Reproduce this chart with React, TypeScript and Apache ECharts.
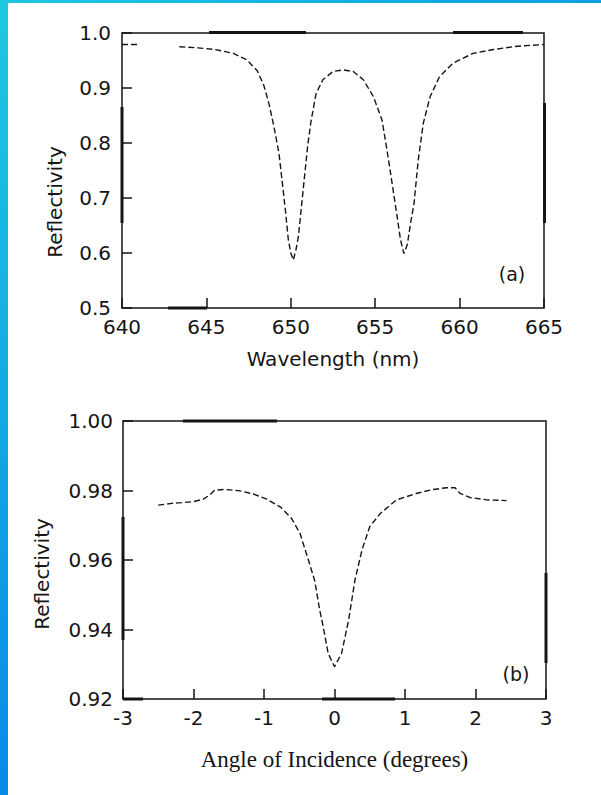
import React, { useEffect, useRef } from "react";
import * as echarts from "echarts";

// Panel (a): reflectivity vs wavelength
const wavelengthNm = [640, 640.9, 641.5, 643.4, 644.5, 645.5, 646.6, 647.4, 648.0, 648.4, 648.7, 649.0, 649.3, 649.5, 649.7, 649.85, 650.0, 650.15, 650.3, 650.45, 650.6, 650.8, 651.0, 651.2, 651.5, 651.9, 652.5, 653.1, 653.7, 654.3, 654.9, 655.4, 655.7, 656.0, 656.3, 656.5, 656.7, 656.9, 657.1, 657.3, 657.55, 657.85, 658.25, 658.8, 659.6, 660.8, 662.0, 663.4, 665];
const reflectivityA: (number | null)[] = [0.979, 0.979, null, 0.975, 0.973, 0.970, 0.963, 0.951, 0.932, 0.905, 0.872, 0.830, 0.781, 0.727, 0.672, 0.625, 0.600, 0.587, 0.605, 0.630, 0.675, 0.735, 0.795, 0.840, 0.890, 0.915, 0.930, 0.933, 0.930, 0.915, 0.884, 0.842, 0.787, 0.727, 0.666, 0.624, 0.599, 0.615, 0.655, 0.690, 0.769, 0.836, 0.884, 0.920, 0.945, 0.963, 0.970, 0.976, 0.979];

// Panel (b): reflectivity vs angle of incidence
const angleDeg = [-2.5, -2.31, -2.17, -2.0, -1.86, -1.77, -1.70, -1.55, -1.34, -1.15, -0.96, -0.77, -0.61, -0.49, -0.37, -0.28, -0.21, -0.16, -0.09, 0.0, 0.10, 0.20, 0.29, 0.39, 0.50, 0.65, 0.88, 1.17, 1.40, 1.59, 1.71, 1.78, 1.92, 2.16, 2.44];
const reflectivityB = [0.9758, 0.9763, 0.9765, 0.9768, 0.9775, 0.9787, 0.9801, 0.9803, 0.9799, 0.9790, 0.9775, 0.9753, 0.9720, 0.9677, 0.9600, 0.9540, 0.9456, 0.9408, 0.9331, 0.9293, 0.9331, 0.9427, 0.9542, 0.9629, 0.9696, 0.9734, 0.9773, 0.9792, 0.9803, 0.9808, 0.9808, 0.9792, 0.9780, 0.9773, 0.9771];

const xTicksA = { min: 640, max: 665, interval: 5 };
const yTicksA = { min: 0.5, max: 1.0, interval: 0.1 };
const xTicksB = { min: -3, max: 3, interval: 1 };
const yTicksB = { min: 0.92, max: 1.0, interval: 0.02 };

const INK = "#151515";
const SANS = "DejaVu Sans, Arial, sans-serif";
const SERIF = "Liberation Serif, Times New Roman, serif";

export default function App() {
  const ref = useRef<HTMLDivElement>(null);

  useEffect(() => {
    if (!ref.current) return;
    const chart = echarts.init(ref.current, undefined, { renderer: "svg" });

    const labelStyle = { fontFamily: SANS, fontSize: 20, color: INK };
    const tick = { show: true, inside: true, length: 10, lineStyle: { color: INK, width: 1.5 } };
    const axisLine = { show: false, onZero: false };
    const lineStyle = { color: INK, width: 1.4, type: [6, 3] as number[] };

    const dataA = wavelengthNm.map((x, i) => [x, reflectivityA[i] === null ? "-" : reflectivityA[i]]);
    const dataB = angleDeg.map((x, i) => [x, reflectivityB[i]]);

    const bars = [
      [209, 31, 97, 3], [453, 31, 70, 3], [168, 306.5, 39, 3], [120.5, 107, 3, 116], [543, 103, 3, 120],
      [183, 419.5, 94, 3], [322, 697.5, 73, 3], [123, 697.5, 20, 3], [121.5, 517, 3, 123], [544.5, 573, 3, 90],
    ];

    chart.setOption({
      animation: false,
      grid: [
        { left: 122, top: 33, width: 422, height: 275, show: true, borderColor: INK, borderWidth: 1.5, backgroundColor: "transparent" },
        { left: 123, top: 421, width: 423, height: 278, show: true, borderColor: INK, borderWidth: 1.5, backgroundColor: "transparent" },
      ],
      xAxis: [
        {
          type: "value", gridIndex: 0, ...xTicksA,
          axisLine, splitLine: { show: false }, axisTick: tick,
          axisLabel: { ...labelStyle, margin: 9, showMinLabel: true, showMaxLabel: true },
          name: "Wavelength (nm)", nameLocation: "middle", nameGap: 41,
          nameTextStyle: { fontFamily: SANS, fontSize: 20, color: INK },
        },
        {
          type: "value", gridIndex: 1, ...xTicksB,
          axisLine, splitLine: { show: false }, axisTick: tick,
          axisLabel: { ...labelStyle, margin: 9, showMinLabel: true, showMaxLabel: true },
          name: "Angle of Incidence (degrees)", nameLocation: "middle", nameGap: 49,
          nameTextStyle: { fontFamily: SERIF, fontSize: 23, color: INK },
        },
      ],
      yAxis: [
        {
          type: "value", gridIndex: 0, ...yTicksA,
          axisLine, splitLine: { show: false }, axisTick: tick,
          axisLabel: { ...labelStyle, margin: 11, formatter: (v: number) => v.toFixed(1) },
        },
        {
          type: "value", gridIndex: 1, ...yTicksB,
          axisLine, splitLine: { show: false }, axisTick: tick,
          axisLabel: { ...labelStyle, margin: 10, formatter: (v: number) => v.toFixed(2) },
        },
      ],
      series: [
        { type: "line", xAxisIndex: 0, yAxisIndex: 0, data: dataA, showSymbol: false, connectNulls: false, lineStyle, silent: true },
        { type: "line", xAxisIndex: 1, yAxisIndex: 1, data: dataB, showSymbol: false, lineStyle, silent: true },
      ],
      graphic: [
        { type: "text", x: 55, y: 202, rotation: Math.PI / 2, style: { text: "Reflectivity", font: `20px ${SANS}`, fill: INK, align: "center", verticalAlign: "middle" } },
        { type: "text", x: 42, y: 574, rotation: Math.PI / 2, style: { text: "Reflectivity", font: `20px ${SANS}`, fill: INK, align: "center", verticalAlign: "middle" } },
        { type: "text", x: 512, y: 274, style: { text: "(a)", font: `19px ${SANS}`, fill: INK, align: "center", verticalAlign: "middle" } },
        { type: "text", x: 516, y: 674, style: { text: "(b)", font: `19px ${SANS}`, fill: INK, align: "center", verticalAlign: "middle" } },
        ...bars.map(([x, y, w, h]) => ({ type: "rect", shape: { x, y, width: w, height: h }, style: { fill: INK }, silent: true })),
      ],
    });

    return () => chart.dispose();
  }, []);

  return (
    <div style={{ position: "absolute", left: 0, top: 0, width: 601, height: 795, overflow: "hidden" }}>
      <div style={{ position: "absolute", left: 0, top: 0, width: 8, height: 795, background: "linear-gradient(to bottom, #1ec8e0, #0a8ae8)" }} />
      <div style={{ position: "absolute", left: 0, top: 0, width: 601, height: 3, background: "linear-gradient(to right, #1ec8e0, #0a9ee2)" }} />
      <div style={{ position: "absolute", left: 8, top: 3, width: 593, height: 792, background: "#ffffff" }} />
      <div ref={ref} style={{ position: "absolute", left: 0, top: 0, width: 601, height: 795 }} />
    </div>
  );
}
